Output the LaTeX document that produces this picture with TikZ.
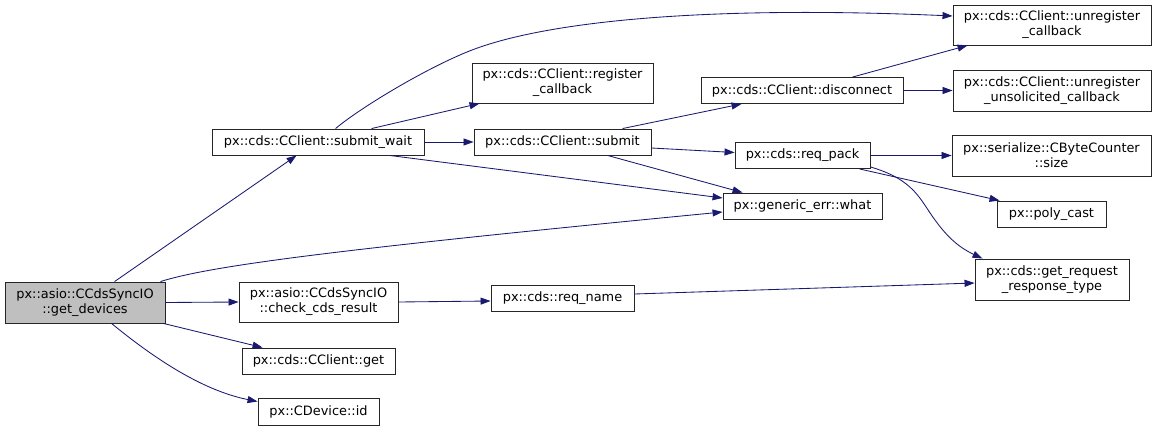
\documentclass[tikz,border=0pt]{standalone}
\usepackage{fontspec}
\setmainfont{DejaVu Sans}
\usetikzlibrary{arrows.meta,calc}
\definecolor{edgeblue}{RGB}{25,25,112}
\definecolor{rootfill}{RGB}{191,191,191}
\begin{document}
\begin{tikzpicture}[x=1pt,y=-1pt,
  fn/.style={draw=black!85, line width=0.9pt, fill=white, inner sep=0pt, align=center,
     font=\fontsize{12.9}{15}\selectfont},
  call/.style={draw=edgeblue, line width=0.85pt, -{Triangle[length=10pt,width=7pt]}}]
\useasboundingbox (0,0) rectangle (1157,431);
% nodes
\node[fn, fill=rootfill, minimum width=160pt, minimum height=41pt] (gd) at (85,302.5) {px::asio::CCdsSyncIO\\::get\_devices};
\node[fn, minimum width=212pt, minimum height=26pt] (sw) at (318,142) {px::cds::CClient::submit\_wait};
\node[fn, minimum width=181pt, minimum height=40pt] (rc) at (562.5,83) {px::cds::CClient::register\\\_callback};
\node[fn, minimum width=177pt, minimum height=26pt] (sub) at (562.5,142) {px::cds::CClient::submit};
\node[fn, minimum width=202pt, minimum height=26pt] (dis) at (802,90.5) {px::cds::CClient::disconnect};
\node[fn, minimum width=198pt, minimum height=40pt] (uc) at (1052,25) {px::cds::CClient::unregister\\\_callback};
\node[fn, minimum width=198pt, minimum height=41pt] (uuc) at (1052,90.5) {px::cds::CClient::unregister\\\_unsolicited\_callback};
\node[fn, minimum width=135pt, minimum height=26pt] (rp) at (802.5,155.5) {px::cds::req\_pack};
\node[fn, minimum width=199pt, minimum height=41pt] (size) at (1051.5,155.5) {px::serialize::CByteCounter\\::size};
\node[fn, minimum width=159pt, minimum height=26pt] (what) at (802.5,206) {px::generic\_err::what};
\node[fn, minimum width=109pt, minimum height=26pt] (pc) at (1051.5,214) {px::poly\_cast};
\node[fn, minimum width=154pt, minimum height=41pt] (grt) at (1052,279.5) {px::cds::get\_request\\\_response\_type};
\node[fn, minimum width=159pt, minimum height=40pt] (ccr) at (318.5,302) {px::asio::CCdsSyncIO\\::check\_cds\_result};
\node[fn, minimum width=153pt, minimum height=26pt] (get) at (318.5,361) {px::cds::CClient::get};
\node[fn, minimum width=121pt, minimum height=27pt] (id) at (318.5,411.5) {px::CDevice::id};
\node[fn, minimum width=143pt, minimum height=26pt] (rn) at (562.5,298) {px::cds::req\_name};
% edges from get_devices
\draw[call] ($(gd.north west)+(110,0)$) -- ($(sw.south west)+(85,0)$);
\draw[call] ($(gd.north east)+(-5,0)$) .. controls (210,266) and (330,250) .. ($(what.west)+(0,6)$);
\draw[call] (gd.east) -- (ccr.west);
\draw[call] ($(gd.south east)+(-2,0)$) -- ($(get.north west)+(21,0)$);
\draw[call] ($(gd.south west)+(107,0)$) .. controls (150,355) and (200,390) .. ($(id.west)+(0,-10)$);
% edges from submit_wait
\draw[call] ($(sw.north west)+(124,0)$) .. controls (360,108) and (423,70) .. (467,52)
   .. controls (540,22) and (700,5) .. ($(uc.west)+(0,-9)$);
\draw[call] ($(sw.north west)+(160,0)$) -- ($(rc.south west)+(8,0)$);
\draw[call] (sw.east) -- (sub.west);
\draw[call] ($(sw.south west)+(178,0)$) -- ($(what.west)+(0,-8)$);
% edges from submit
\draw[call] ($(sub.north west)+(149,0)$) -- ($(dis.south west)+(41,0)$);
\draw[call] ($(sub.east)+(0,6)$) -- ($(rp.west)+(0,-3)$);
\draw[call] ($(sub.south west)+(134,0)$) -- ($(what.north west)+(20,0)$);
% edges from disconnect
\draw[call] ($(dis.north west)+(152,0)$) -- ($(uc.south west)+(15,0)$);
\draw[call] (dis.east) -- (uuc.west);
% edges from req_pack
\draw[call] (rp.east) -- (size.west);
\draw[call] ($(rp.south west)+(125,0)$) -- ($(pc.north west)+(3,0)$);
\draw[call] ($(rp.south east)+(0,-2)$) .. controls (915,180) and (920,200) .. (935,220)
   .. controls (948,238) and (960,248) .. ($(grt.north west)+(8,0)$);
% others
\draw[call] (ccr.east) -- ($(rn.west)+(0,3)$);
\draw[call] ($(rn.east)+(0,-4)$) -- ($(grt.west)+(0,3.5)$);
\end{tikzpicture}
\end{document}
